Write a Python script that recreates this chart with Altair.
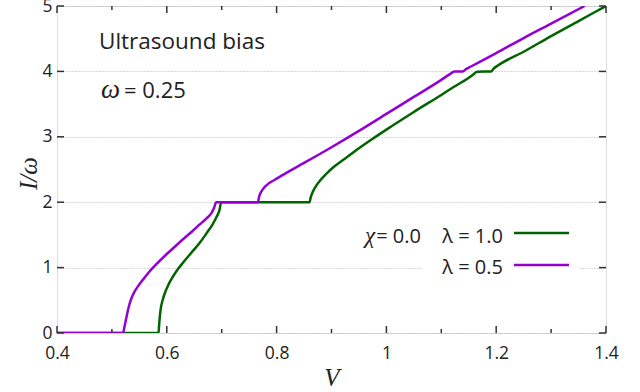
import altair as alt
import pandas as pd

# ---- data ----
v_green = [0.40, 0.585, 0.586, 0.5875, 0.5895, 0.592, 0.596, 0.603, 0.611, 0.620,
           0.629, 0.645, 0.660, 0.672, 0.684, 0.691, 0.696, 0.699,
           0.860, 0.862, 0.866, 0.872, 0.880, 0.890, 0.905, 0.925, 0.950, 0.975,
           1.000, 1.050, 1.100, 1.130, 1.145, 1.154, 1.160, 1.165,
           1.191, 1.195, 1.203, 1.250, 1.300, 1.350, 1.400]
i_green = [0.0, 0.0, 0.12, 0.27, 0.40, 0.49, 0.60, 0.74, 0.86, 0.975,
           1.07, 1.23, 1.38, 1.52, 1.67, 1.78, 1.88, 2.0,
           2.0, 2.07, 2.16, 2.25, 2.34, 2.43, 2.545, 2.67, 2.825, 2.97,
           3.11, 3.38, 3.64, 3.80, 3.875, 3.925, 3.965, 3.995,
           4.0, 4.04, 4.09, 4.30, 4.54, 4.77, 5.0]
v_purple = [0.40, 0.520, 0.523, 0.526, 0.529, 0.532, 0.536, 0.541, 0.548, 0.557,
            0.5685, 0.583, 0.599, 0.614, 0.629, 0.645, 0.660, 0.672, 0.681, 0.686,
            0.690,
            0.766, 0.768, 0.772, 0.778, 0.786, 0.796, 0.820, 0.850, 0.900, 0.950,
            1.000, 1.050, 1.100, 1.115, 1.124, 1.139, 1.145, 1.154, 1.200, 1.250,
            1.300, 1.361]
i_purple = [0.0, 0.0, 0.10, 0.22, 0.34, 0.44, 0.54, 0.63, 0.72, 0.82,
            0.94, 1.07, 1.20, 1.315, 1.43, 1.545, 1.66, 1.75, 1.83, 1.91,
            2.0,
            2.0, 2.08, 2.16, 2.23, 2.29, 2.34, 2.46, 2.60, 2.84, 3.09,
            3.35, 3.61, 3.87, 3.955, 4.0, 4.0, 4.035, 4.075, 4.28, 4.51,
            4.73, 5.0]
series = ["λ = 1.0", "λ = 0.5"]
colors = ["#006400", "#9400d3"]

x_major = [0.4, 0.6, 0.8, 1.0, 1.2, 1.4]
x_minor = [0.5, 0.7, 0.9, 1.1, 1.3]
y_major = [0, 1, 2, 3, 4, 5]

W, H = 549, 327
FONT = "Open Sans"
SERIF = "Liberation Serif"
TXT = "#222222"
FRAME = "#333333"

df = pd.concat([
    pd.DataFrame({"V": v_green, "I": i_green, "s": series[0], "o": range(len(v_green))}),
    pd.DataFrame({"V": v_purple, "I": i_purple, "s": series[1], "o": range(len(v_purple))}),
])

xs = alt.Scale(domain=[0.4, 1.4], nice=False, zero=False)
ys = alt.Scale(domain=[0, 5], nice=False, zero=False)
cs = alt.Scale(domain=series, range=colors)

lines = alt.Chart(df).mark_line(strokeWidth=2.5, clip=True, interpolate="monotone").encode(
    x=alt.X("V:Q", scale=xs, axis=alt.Axis(
        values=x_major, format="~g", ticks=False, domain=False, grid=False,
        labelFlush=False, labelFont=FONT, labelFontSize=17.5, labelColor=TXT,
        labelPadding=11,
        title="V", titleFont=SERIF, titleFontStyle="italic", titleFontWeight="normal",
        titleFontSize=25, titleColor=TXT, titleBaseline="alphabetic", titleY=52)),
    y=alt.Y("I:Q", scale=ys, axis=alt.Axis(
        values=y_major, format="d", ticks=False, domain=False, grid=True,
        gridDash=[1, 2], gridColor="#b0b0b0", gridWidth=1,
        labelFlush=False, labelFont=FONT, labelFontSize=17.5, labelColor=TXT,
        labelPadding=5,
        title="I/ω", titleFont=SERIF, titleFontStyle="italic", titleFontWeight="normal",
        titleFontSize=25, titleColor=TXT, titleAngle=270, titleBaseline="alphabetic",
        titleX=-21, titleY=167)),
    color=alt.Color("s:N", scale=cs, legend=None),
    order="o:Q",
)

def xticks(vals, length):
    d = pd.DataFrame({"v": vals})
    bot = alt.Chart(d).mark_rule(color=FRAME, strokeWidth=1.5).encode(
        x=alt.X("v:Q", scale=xs), y=alt.value(H), y2=alt.value(H - length))
    top = alt.Chart(d).mark_rule(color=FRAME, strokeWidth=1.5).encode(
        x=alt.X("v:Q", scale=xs), y=alt.value(0), y2=alt.value(length))
    return [bot, top]

dy = pd.DataFrame({"v": y_major})
yl = alt.Chart(dy).mark_rule(color=FRAME, strokeWidth=1.5).encode(
    y=alt.Y("v:Q", scale=ys), x=alt.value(0), x2=alt.value(7))
yr = alt.Chart(dy).mark_rule(color=FRAME, strokeWidth=1.5).encode(
    y=alt.Y("v:Q", scale=ys), x=alt.value(W), x2=alt.value(W - 7))

# legend (manual, labels to the left of the line samples)
bg = alt.Chart(pd.DataFrame({"a": [0]})).mark_rect(color="white").encode(
    x=alt.value(366), x2=alt.value(521), y=alt.value(216), y2=alt.value(276))

leg = pd.DataFrame({"s": series, "ty": [237, 268], "ly": [227, 259]})
leg_lines = alt.Chart(leg).mark_rule(strokeWidth=2.5).encode(
    x=alt.value(457), x2=alt.value(512), y=alt.Y("ly:Q", scale=None),
    color=alt.Color("s:N", scale=cs, legend=None))
leg_text = alt.Chart(leg).mark_text(align="right", baseline="alphabetic", font=FONT,
                                    fontSize=20, color=TXT).encode(
    x=alt.value(446), y=alt.Y("ty:Q", scale=None), text="s:N")

def txt(s, x, y, font=FONT, style="normal", size=20, align="left"):
    return alt.Chart(pd.DataFrame({"t": [s]})).mark_text(
        align=align, baseline="alphabetic", font=font, fontStyle=style,
        fontSize=size, color=TXT).encode(x=alt.value(x), y=alt.value(y), text="t:N")

chi = txt("χ", 318, 237, font=SERIF, style="italic", size=23, align="right")
chi_eq = txt("= 0.0", 364, 237, align="right")
title1 = txt("Ultrasound bias", 42, 43, size=22.5)
omega = txt("ω", 44, 92, font=SERIF, style="italic", size=27)
omega_eq = txt("= 0.25", 67, 92, size=22)

layers = [lines] + xticks(x_major, 7) + xticks(x_minor, 4) + [yl, yr, bg, leg_lines,
          leg_text, chi, chi_eq, title1, omega, omega_eq]

chart = alt.layer(*layers).properties(
    width=W, height=H,
    autosize=alt.AutoSizeParams(type="none"),
    padding={"left": 57, "top": 6, "right": 34, "bottom": 59},
).configure_view(stroke=FRAME, strokeWidth=1.5).configure(background="white")

chart.save("out.html", embed_options={"renderer": "svg", "actions": False})
